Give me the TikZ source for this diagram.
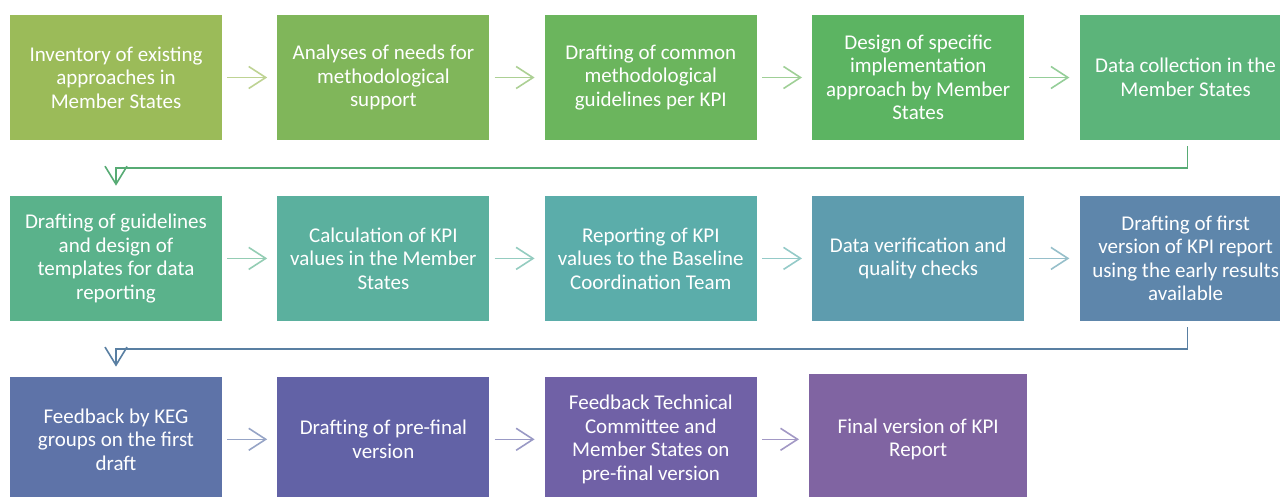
\documentclass[tikz,border=0pt]{standalone}
\usepackage{fontspec}
\setmainfont{Carlito}
\usetikzlibrary{positioning,arrows.meta}

\definecolor{c1}{HTML}{9BBB59}
\definecolor{c2}{HTML}{80B65A}
\definecolor{c3}{HTML}{6BB55D}
\definecolor{c4}{HTML}{5CB462}
\definecolor{c5}{HTML}{5CB47A}
\definecolor{c6}{HTML}{5AB28B}
\definecolor{c7}{HTML}{5BB09E}
\definecolor{c8}{HTML}{5BADAA}
\definecolor{c9}{HTML}{5E9CAE}
\definecolor{c10}{HTML}{5E86AB}
\definecolor{c11}{HTML}{5E73A8}
\definecolor{c12}{HTML}{6262A6}
\definecolor{c13}{HTML}{7061A6}
\definecolor{c14}{HTML}{8064A2}

\begin{document}
\begin{tikzpicture}[
		x=1pt, y=1pt,
		box/.style={rectangle, minimum width=212pt, minimum height=125pt,
			inner sep=0pt, align=center, text=white,
			font=\fontsize{21}{23.5}\selectfont},
		flow/.style={-{Straight Barb[length=17pt,width=22pt]}, line width=1.6pt,
			shorten <=5pt, shorten >=10pt},
		turn/.style={-{Straight Barb[length=18pt,width=22pt]}, line width=1.6pt}
	]
	\useasboundingbox (0,0) rectangle (1280,-496);
	\clip (0,0) rectangle (1280,-496);

	% first row
	\node[box, fill=c1] (b1) at (116,-77.5) {Inventory of existing\\approaches in\\Member States};
	\node[box, fill=c2, right=55pt of b1] (b2) {Analyses of needs for\\methodological\\support};
	\node[box, fill=c3, right=55pt of b2] (b3) {Drafting of common\\methodological\\guidelines per KPI};
	\node[box, fill=c4, right=55pt of b3] (b4) {Design of specific\\implementation\\approach by Member\\States};
	\node[box, fill=c5, right=55pt of b4] (b5) {Data collection in the\\Member States};

	% second row
	\node[box, fill=c6, below=55.5pt of b1] (b6) {Drafting of guidelines\\and design of\\templates for data\\reporting};
	\node[box, fill=c7, right=55pt of b6] (b7) {Calculation of KPI\\values in the Member\\States};
	\node[box, fill=c8, right=55pt of b7] (b8) {Reporting of KPI\\values to the Baseline\\Coordination Team};
	\node[box, fill=c9, right=55pt of b8] (b9) {Data verification and\\quality checks};
	\node[box, fill=c10, right=55pt of b9] (b10) {Drafting of first\\version of KPI report\\using the early results\\available};

	% third row
	\node[box, fill=c11, below=55.5pt of b6] (b11) {Feedback by KEG\\groups on the first\\draft};
	\node[box, fill=c12, right=55pt of b11] (b12) {Drafting of pre-final\\version};
	\node[box, fill=c13, right=55pt of b12] (b13) {Feedback Technical\\Committee and\\Member States on\\pre-final version};
	\node[box, fill=c14, minimum width=218pt, minimum height=131pt] (b14) at (b9 |- b13) {Final version of KPI\\Report};

	% arrows inside the rows
	\foreach \i/\j in {1/2,2/3,3/4,4/5,6/7,7/8,8/9,9/10,11/12,12/13,13/14}
		\draw[flow, c\i!65!white] (b\i.east) -- (b\j.west);

	% arrows from one row to the next
	\draw[turn, c5!95!black] ([xshift=2pt,yshift=-6pt]b5.south) -- ++(0,-22) -| ([yshift=10pt]b6.north);
	\draw[turn, c10!95!black] ([xshift=2pt,yshift=-6pt]b10.south) -- ++(0,-22) -| ([yshift=10pt]b11.north);
\end{tikzpicture}
\end{document}
